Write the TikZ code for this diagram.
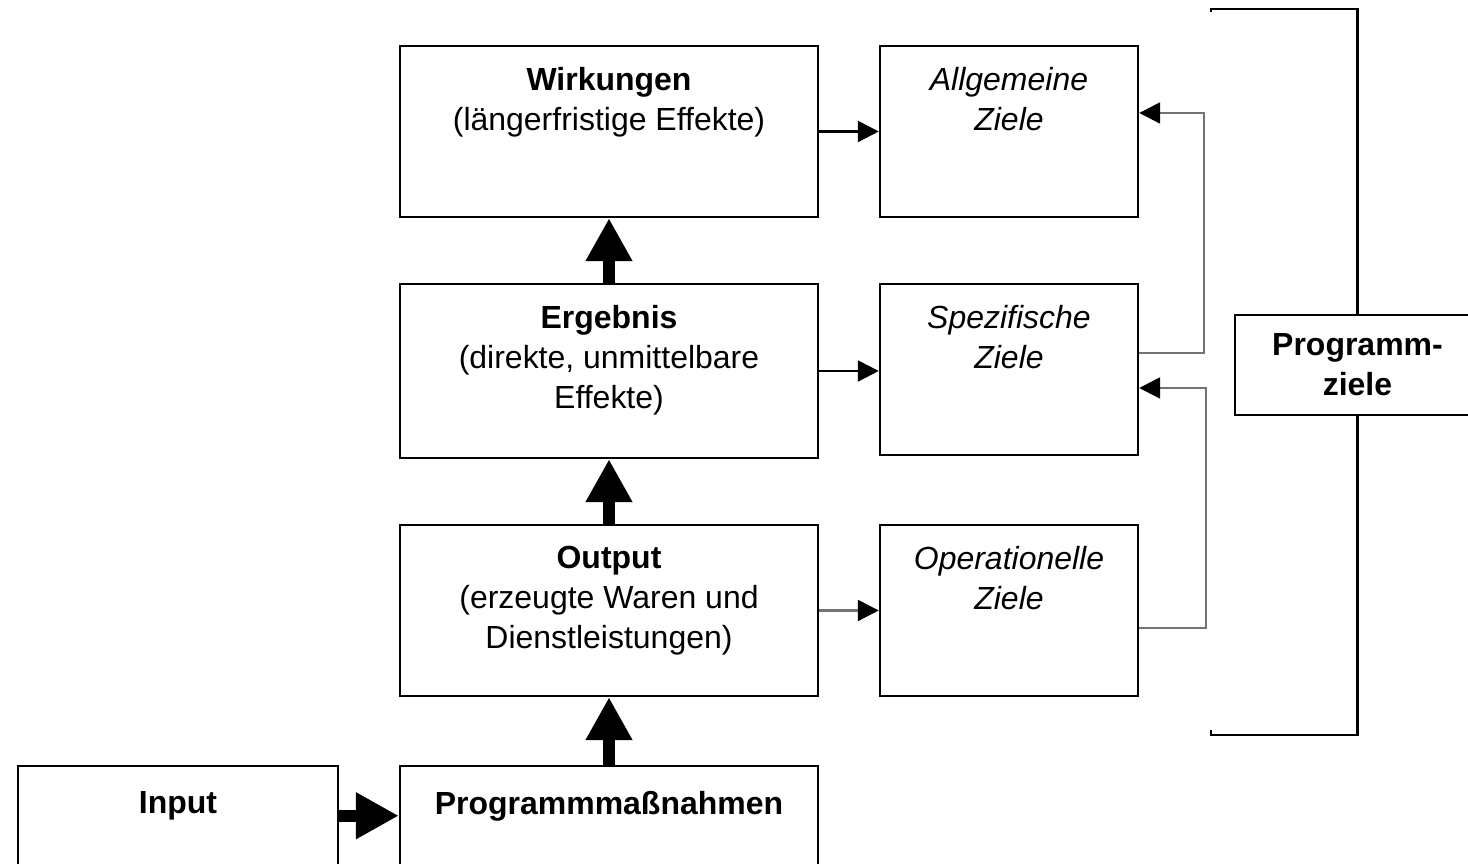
\documentclass[tikz,border=0pt]{standalone}
\usepackage{fontspec}
\setmainfont{Liberation Sans}
\usetikzlibrary{arrows.meta}

\tikzset{
  box/.style={draw, line width=0.7pt, minimum width=4.18cm, minimum height=1.71cm, inner sep=0pt},
  zielbox/.style={box, minimum width=2.58cm},
  boxtext/.style={anchor=north, align=center, inner sep=0pt, yshift=-0.22cm},
  thickarrow/.style={line width=0.12cm, -{Triangle[length=0.43cm,width=0.44cm]}},
  thinarrow/.style={line width=0.7pt, -{Triangle[length=0.21cm,width=0.21cm]}},
  backarrow/.style={line width=0.7pt, draw=gray!90!black, -{Triangle[length=0.21cm,width=0.21cm,color=black]}},
}

\begin{document}
\begin{tikzpicture}[font=\fontsize{9.1}{11.4}\selectfont]
% Page size of the reference
\useasboundingbox (0,0) rectangle (14.68,8.64);
\clip (0,0) rectangle (14.68,8.64);

% Left column
\node[box, label={[boxtext]north:{\textbf{Wirkungen}\\(längerfristige Effekte)}}] (wirk) at (6.09, 7.325) {};
\node[box, minimum height=1.74cm, label={[boxtext]north:{\textbf{Ergebnis}\\(direkte, unmittelbare\\Effekte)}}] (erg) at (6.09, 4.93) {};
\node[box, label={[boxtext]north:{\textbf{Output}\\(erzeugte Waren und\\Dienstleistungen)}}] (outp) at (6.09, 2.535) {};
\node[box, label={[boxtext, yshift=-0.04cm]north:{\textbf{Programmmaßnahmen}}}] (prog) at (6.09, 0.125) {};
\node[box, minimum width=3.2cm, label={[boxtext, yshift=-0.04cm]north:{\textbf{Input}}}] (input) at (1.78, 0.125) {};

% Right column
\node[zielbox, label={[boxtext]north:{\itshape Allgemeine\\\itshape Ziele}}] (allg) at (10.09, 7.325) {};
\node[zielbox, label={[boxtext]north:{\itshape Spezifische\\\itshape Ziele}}] (spez) at (10.09, 4.945) {};
\node[zielbox, label={[boxtext]north:{\itshape Operationelle\\\itshape Ziele}}] (oper) at (10.09, 2.535) {};

% Programmziele with bracket
\node[box, minimum width=2.45cm, minimum height=1.0cm, align=center] (ziele) at (13.575, 4.99) {\textbf{Programm-}\\\textbf{ziele}};
\coordinate (brtop) at (12.11, 8.52);
\coordinate (brbot) at (12.11, 1.34);
\draw[line width=0.6pt] (brtop) -- ++(0,0.03) -| (ziele.north);
\draw[line width=0.6pt] (brbot) -- ++(0,-0.05) -| (ziele.south);

% Thick arrows
\draw[thickarrow] ([yshift=-0.51cm]input.north east) -- ([yshift=-0.51cm]prog.north west);
\draw[thickarrow] (prog) -- (outp);
\draw[thickarrow] (outp) -- (erg);
\draw[thickarrow] (erg) -- (wirk);

% Thin arrows
\draw[thinarrow] (wirk) -- (allg);
\draw[thinarrow] (erg.east) -- (erg.east -| spez.west);
\draw[backarrow] (outp) -- (oper);

% Feedback
\draw[backarrow] ([yshift=0.165cm]spez.east) -- ++(0.65,0) |- ([yshift=0.185cm]allg.east);
\draw[backarrow] ([yshift=-0.175cm]oper.east) -- ++(0.67,0) |- ([yshift=-0.185cm]spez.east);
\end{tikzpicture}
\end{document}
